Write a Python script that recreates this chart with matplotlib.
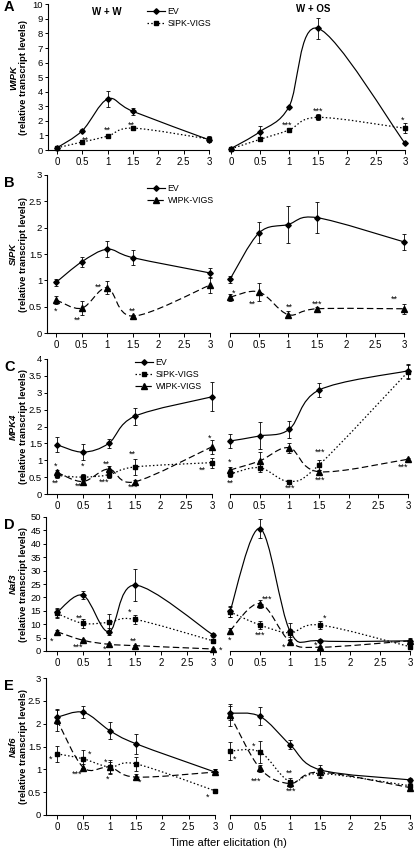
import numpy as np
import matplotlib
matplotlib.use('Agg')
import matplotlib.pyplot as plt
from matplotlib.path import Path
from matplotlib.patches import PathPatch
from matplotlib.lines import Line2D

plt.rcParams['font.family'] = ['Liberation Sans', 'DejaVu Sans']

times = [0, 0.5, 1, 1.5, 3]
xticks = [0, 0.5, 1, 1.5, 2, 2.5, 3]
genes = ['WIPK', 'SIPK', 'MPK4', 'Naf3', 'Naf6']
letters = ['A', 'B', 'C', 'D', 'E']

# A - WIPK
A_ww_ev = [0.15, 1.33, 3.5, 2.65, 0.7]
A_ww_ev_err = [0.05, 0.1, 0.55, 0.25, 0.15]
A_ww_sipk = [0.15, 0.55, 0.95, 1.5, 0.75]
A_ww_sipk_err = [0.05, 0.1, 0.1, 0.15, 0.2]
A_wos_ev = [0.1, 1.26, 2.97, 8.35, 0.46]
A_wos_ev_err = [0.05, 0.4, 0.08, 0.7, 0.05]
A_wos_sipk = [0.08, 0.73, 1.37, 2.24, 1.49]
A_wos_sipk_err = [0.05, 0.1, 0.1, 0.2, 0.35]

# B - SIPK
B_ww_ev = [0.96, 1.35, 1.59, 1.43, 1.14]
B_ww_ev_err = [0.07, 0.1, 0.15, 0.14, 0.1]
B_ww_wipk = [0.63, 0.47, 0.86, 0.32, 0.91]
B_ww_wipk_err = [0.07, 0.13, 0.12, 0.03, 0.15]
B_wos_ev = [1.02, 1.9, 2.06, 2.19, 1.73]
B_wos_ev_err = [0.07, 0.2, 0.35, 0.3, 0.15]
B_wos_wipk = [0.68, 0.78, 0.35, 0.46, 0.46]
B_wos_wipk_err = [0.07, 0.17, 0.07, 0.03, 0.1]

# C - MPK4
C_ww_ev = [1.46, 1.24, 1.5, 2.3, 2.88]
C_ww_ev_err = [0.22, 0.23, 0.13, 0.25, 0.43]
C_ww_sipk = [0.55, 0.5, 0.57, 0.8, 0.93]
C_ww_sipk_err = [0.08, 0.08, 0.1, 0.25, 0.15]
C_ww_wipk = [0.64, 0.37, 0.74, 0.36, 1.4]
C_ww_wipk_err = [0.08, 0.06, 0.08, 0.05, 0.2]
C_wos_ev = [1.57, 1.72, 1.92, 3.08, 3.65]
C_wos_ev_err = [0.22, 0.4, 0.25, 0.2, 0.2]
C_wos_sipk = [0.59, 0.78, 0.37, 0.86, 3.62]
C_wos_sipk_err = [0.08, 0.12, 0.03, 0.15, 0.2]
C_wos_wipk = [0.71, 0.98, 1.37, 0.66, 1.03]
C_wos_wipk_err = [0.1, 0.25, 0.15, 0.05, 0.03]

# D - Naf3
D_ww_ev = [14.4, 20.8, 7.2, 24.6, 6.0]
D_ww_ev_err = [1.8, 1.5, 1.3, 6.0, 0.8]
D_ww_sipk = [14.0, 10.3, 10.7, 11.8, 3.8]
D_ww_sipk_err = [1.5, 1.8, 3.0, 1.8, 0.8]
D_ww_wipk = [7.2, 4.0, 2.5, 2.0, 0.75]
D_ww_wipk_err = [0.7, 0.5, 0.4, 0.4, 0.3]
D_wos_ev = [14.8, 45.7, 7.4, 3.8, 3.8]
D_wos_ev_err = [2.0, 3.5, 3.0, 0.5, 0.5]
D_wos_sipk = [14.6, 9.7, 6.8, 9.7, 1.6]
D_wos_sipk_err = [1.8, 1.5, 1.5, 1.5, 0.4]
D_wos_wipk = [7.6, 17.7, 3.5, 1.4, 3.8]
D_wos_wipk_err = [0.8, 1.5, 0.5, 0.4, 1.0]

# E - Naf6
E_ww_ev = [2.14, 2.25, 1.85, 1.56, 0.94]
E_ww_ev_err = [0.15, 0.13, 0.18, 0.22, 0.07]
E_ww_sipk = [1.34, 1.23, 1.05, 1.12, 0.53]
E_ww_sipk_err = [0.18, 0.2, 0.15, 0.15, 0.05]
E_ww_wipk = [2.08, 1.04, 1.05, 0.83, 0.94]
E_ww_wipk_err = [0.25, 0.08, 0.12, 0.07, 0.07]
E_wos_ev = [2.23, 2.16, 1.54, 0.99, 0.77]
E_wos_ev_err = [0.15, 0.2, 0.1, 0.1, 0.05]
E_wos_sipk = [1.4, 1.38, 0.73, 0.91, 0.64]
E_wos_sipk_err = [0.2, 0.25, 0.07, 0.1, 0.05]
E_wos_wipk = [2.19, 1.02, 0.69, 0.94, 0.6]
E_wos_wipk_err = [0.25, 0.08, 0.07, 0.1, 0.05]

# significance stars (x, y, text)
A_ww_stars = [(0.56, 0.7, '**'), (1.0, 1.37, '**'), (1.46, 1.7, '**')]
A_wos_stars = [(0.97, 1.72, '***'), (1.5, 2.68, '***'), (2.95, 2.06, '*')]
B_ww_stars = [(0.0, 0.42, '*'), (0.42, 0.25, '**'), (0.82, 0.86, '**'), (1.49, 0.42, '**')]
B_wos_stars = [(0.06, 0.75, '*'), (0.39, 0.54, '**'), (1.02, 0.49, '**'),
               (1.5, 0.54, '***'), (2.83, 0.64, '**')]
C_ww_stars = [(-0.03, 0.81, '*'), (-0.04, 0.32, '**'), (0.5, 0.81, '*'), (0.42, 0.22, '**'),
              (0.95, 0.88, '**'), (0.92, 0.36, '***'), (1.46, 1.18, '**'), (1.47, 0.19, '***'),
              (2.82, 0.71, '**'), (2.96, 1.65, '*')]
C_wos_stars = [(0.0, 0.94, '*'), (0.0, 0.32, '**'), (1.01, 0.17, '***'), (1.52, 1.23, '***'),
               (1.52, 0.41, '***'), (2.92, 0.79, '***')]
D_ww_stars = [(-0.1, 3.8, '*'), (0.43, 12.2, '**'), (0.41, 1.4, '***'), (0.91, 0.6, '*'),
              (1.4, 14.4, '*'), (1.47, 3.5, '**'), (3.15, 0.4, '*')]
D_wos_stars = [(0.0, 4.1, '*'), (0.61, 19.4, '***'), (0.5, 5.7, '***'), (0.9, 1.4, '*'),
               (1.57, 12.2, '*'), (1.42, 2.0, '*')]
E_ww_stars = [(-0.13, 1.23, '*'), (0.61, 1.33, '*'), (0.39, 0.89, '***'), (0.93, 1.16, '*'),
              (0.96, 0.78, '*'), (1.56, 0.72, '*'), (2.85, 0.39, '*')]
E_wos_stars = [(0.07, 1.22, '*'), (0.4, 1.5, '*'), (0.43, 0.75, '***'), (0.99, 0.91, '**'),
               (1.02, 0.53, '***')]

ymax = [10, 3, 4, 50, 3]
ystep = [1, 0.5, 0.5, 5, 0.5]

# pixel geometry (figure is 415 x 850 px)
W, H = 415.0, 850.0
left_x = [(48, 57, 209), (47, 56, 210), (47, 57, 212), (46, 57, 213), (46, 57, 215)]
right_x = [(231, 405), (230, 404), (230, 408), (230, 410), (230, 410)]
rows_y = [(4.3, 150), (175, 333), (359, 494), (517, 651), (678, 815)]

styles = {
    'ev': dict(marker='D', ms=2.8, ls='-', lw=0.85),
    'sipk': dict(marker='s', ms=3.5, ls=(0, (1.2, 1.8)), lw=0.9),
    'wipk': dict(marker='^', ms=3.8, ls=(0, (5.5, 2.8)), lw=0.85),
}
names = {'ev': 'EV', 'sipk': 'SIPK-VIGS', 'wipk': 'WIPK-VIGS'}


def smooth_line(ax, x, y, ls, lw):
    # Excel-like smoothed line as cubic bezier path through the points
    pts = np.column_stack([x, y]).astype(float)
    n = len(pts)
    verts = [pts[0]]
    codes = [Path.MOVETO]
    for i in range(n - 1):
        p0 = pts[max(i - 1, 0)]
        p1 = pts[i]
        p2 = pts[i + 1]
        p3 = pts[min(i + 2, n - 1)]
        verts += [p1 + (p2 - p0) / 6, p2 - (p3 - p1) / 6, p2]
        codes += [Path.CURVE4] * 3
    ax.add_patch(PathPatch(Path(verts, codes), fill=False, edgecolor='black',
                           linestyle=ls, lw=lw, clip_on=False))


def draw_series(ax, kind, vals, errs):
    st = styles[kind]
    smooth_line(ax, times, vals, st['ls'], st['lw'])
    ax.errorbar(times, vals, yerr=errs, fmt='none', ecolor='black', elinewidth=0.6,
                capsize=1.6, capthick=0.6, clip_on=False)
    ax.plot(times, vals, linestyle='none', marker=st['marker'], ms=st['ms'],
            color='black', clip_on=False)


def add_stars(ax, stars):
    for x, y, s in stars:
        ax.text(x, y, s, ha='center', va='center', fontsize=6.5, clip_on=False)


def pbox(x0, x1, y0, y1):
    return [x0 / W, 1 - y1 / H, (x1 - x0) / W, (y1 - y0) / H]


panels = [
    ([('ev', A_ww_ev, A_ww_ev_err), ('sipk', A_ww_sipk, A_ww_sipk_err)],
     [('ev', A_wos_ev, A_wos_ev_err), ('sipk', A_wos_sipk, A_wos_sipk_err)],
     A_ww_stars, A_wos_stars),
    ([('ev', B_ww_ev, B_ww_ev_err), ('wipk', B_ww_wipk, B_ww_wipk_err)],
     [('ev', B_wos_ev, B_wos_ev_err), ('wipk', B_wos_wipk, B_wos_wipk_err)],
     B_ww_stars, B_wos_stars),
    ([('ev', C_ww_ev, C_ww_ev_err), ('sipk', C_ww_sipk, C_ww_sipk_err),
      ('wipk', C_ww_wipk, C_ww_wipk_err)],
     [('ev', C_wos_ev, C_wos_ev_err), ('sipk', C_wos_sipk, C_wos_sipk_err),
      ('wipk', C_wos_wipk, C_wos_wipk_err)],
     C_ww_stars, C_wos_stars),
    ([('ev', D_ww_ev, D_ww_ev_err), ('sipk', D_ww_sipk, D_ww_sipk_err),
      ('wipk', D_ww_wipk, D_ww_wipk_err)],
     [('ev', D_wos_ev, D_wos_ev_err), ('sipk', D_wos_sipk, D_wos_sipk_err),
      ('wipk', D_wos_wipk, D_wos_wipk_err)],
     D_ww_stars, D_wos_stars),
    ([('ev', E_ww_ev, E_ww_ev_err), ('sipk', E_ww_sipk, E_ww_sipk_err),
      ('wipk', E_ww_wipk, E_ww_wipk_err)],
     [('ev', E_wos_ev, E_wos_ev_err), ('sipk', E_wos_sipk, E_wos_sipk_err),
      ('wipk', E_wos_wipk, E_wos_wipk_err)],
     E_ww_stars, E_wos_stars),
]

legend_pos = [(147, 7), (147, 184), (135, 358), None, None]

fig = plt.figure(figsize=(W / 100, H / 100), dpi=100)

for i, (ww, wos, st_ww, st_wos) in enumerate(panels):
    y0, y1 = rows_y[i]
    spine, zero, three = left_x[i]
    unit = (three - zero) / 3.0
    axl = fig.add_axes(pbox(spine, three, y0, y1))
    axl.set_xlim(-(zero - spine) / unit, 3)
    r0, r3 = right_x[i]
    axr = fig.add_axes(pbox(r0, r3, y0, y1))
    axr.set_xlim(0, 3)

    for ax in (axl, axr):
        ax.set_ylim(0, ymax[i])
        ax.set_xticks(xticks)
        ax.set_xticklabels([f'{t:g}' for t in xticks])
        ax.spines['top'].set_visible(False)
        ax.spines['right'].set_visible(False)
        ax.spines['bottom'].set_linewidth(0.8)
        ax.spines['left'].set_linewidth(0.8)
        ax.tick_params(axis='x', direction='out', length=3, width=0.7, labelsize=7, pad=2)
        ax.tick_params(axis='y', direction='out', length=2.5, width=0.7, labelsize=6.8, pad=1)
        ax.patch.set_visible(False)
    axr.spines['left'].set_visible(False)
    axr.set_yticks([])
    yt = np.arange(0, ymax[i] + ystep[i] / 2, ystep[i])
    axl.set_yticks(yt)
    axl.set_yticklabels([f'{v:g}' for v in yt])

    for kind, vals, errs in ww:
        draw_series(axl, kind, vals, errs)
    for kind, vals, errs in wos:
        draw_series(axr, kind, vals, errs)
    add_stars(axl, st_ww)
    add_stars(axr, st_wos)

    # y label
    yc = 1 - (y0 + y1) / 2 / H
    fig.text(13.5 / W, yc, genes[i], rotation=90, ha='center', va='center',
             fontsize=6.8, fontweight='bold', fontstyle='italic')
    fig.text(24 / W, yc, '(relative transcript levels)', rotation=90, ha='center',
             va='center', fontsize=6.8, fontweight='bold')
    # panel letter
    fig.text(4 / W, 1 - (y0 + 8) / H if i else 1 - 7 / H, letters[i], ha='left', va='center',
             fontsize=10.5, fontweight='bold')

    if legend_pos[i] is not None:
        handles = []
        for kind, _, _ in ww:
            s = styles[kind]
            handles.append(Line2D([], [], color='black', marker=s['marker'], ms=s['ms'],
                                  ls=s['ls'], lw=s['lw']))
        lx, ly = legend_pos[i]
        axl.legend(handles, [names[k] for k, _, _ in ww], loc='upper left',
                   bbox_to_anchor=(lx / W, 1 - ly / H), bbox_transform=fig.transFigure,
                   frameon=False, fontsize=6.3, handlelength=2.0, handletextpad=0.35,
                   labelspacing=0.35, borderpad=0, borderaxespad=0, numpoints=1)

fig.text(107 / W, 1 - 12 / H, 'W + W', ha='center', va='center', fontsize=7, fontweight='bold')
fig.text(313 / W, 1 - 9 / H, 'W + OS', ha='center', va='center', fontsize=7, fontweight='bold')
fig.text(228 / W, 1 - 843 / H, 'Time after elicitation (h)', ha='center', va='center',
         fontsize=8)

fig.savefig('out.png', dpi=100)
